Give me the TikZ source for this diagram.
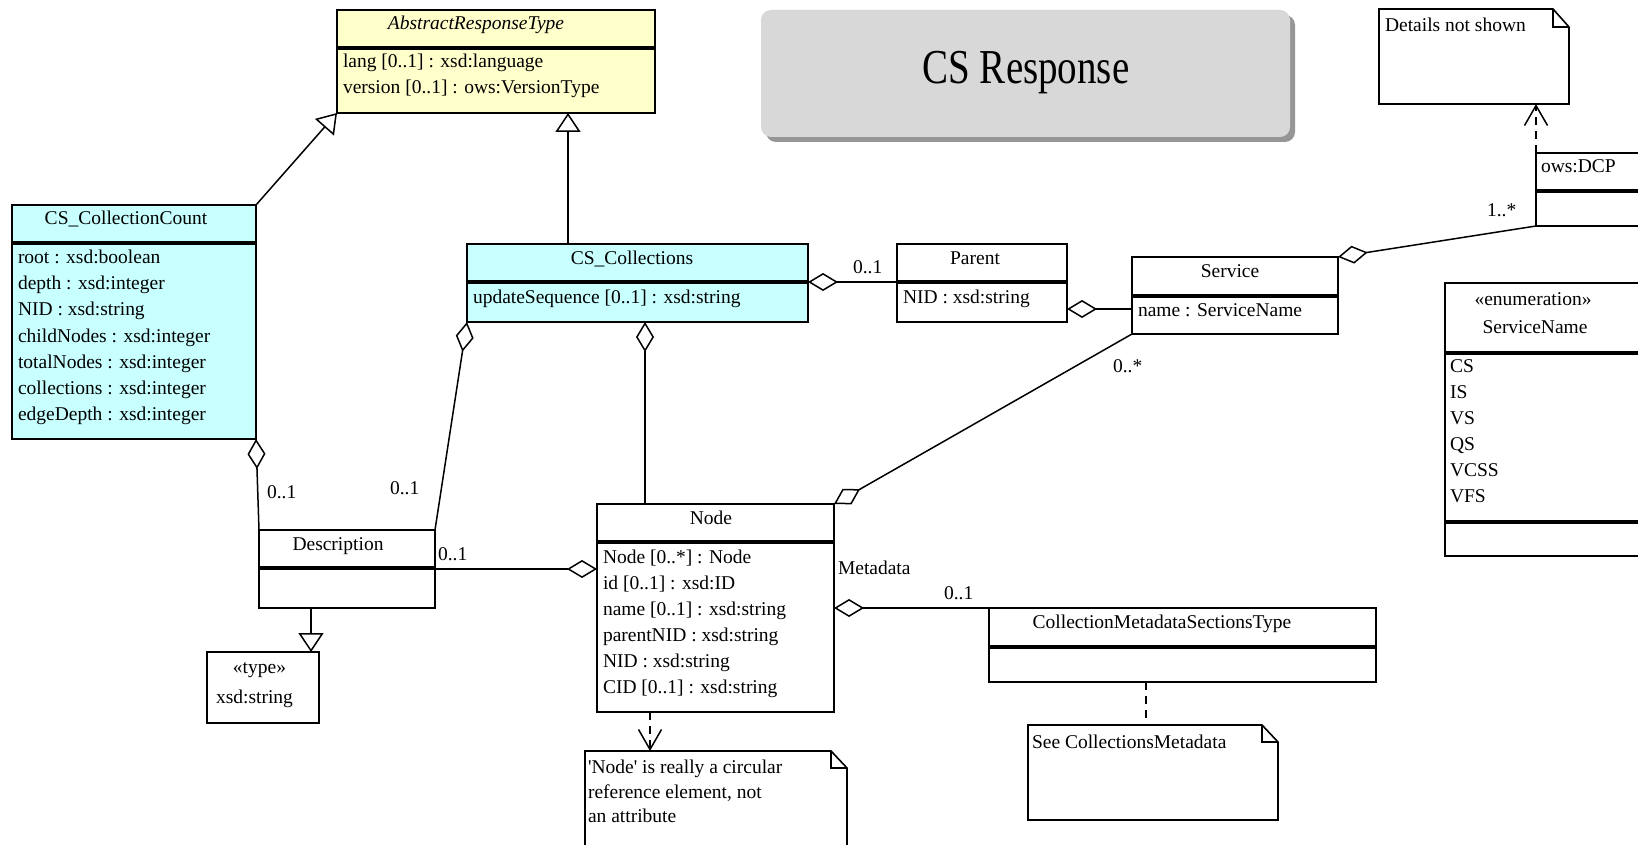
\documentclass[tikz,border=0pt]{standalone}
\usepackage{fontspec}
\usepackage{graphicx}
\setmainfont{Liberation Serif}
\usetikzlibrary{arrows.meta,fit,calc}
\definecolor{clsblue}{RGB}{200,255,255}
\definecolor{clsyellow}{RGB}{255,255,204}
\definecolor{titlegray}{RGB}{216,216,216}
\definecolor{shadowgray}{RGB}{150,150,150}
\tikzset{
  box/.style={draw, line width=1.6pt, inner sep=0pt, outer sep=0pt},
  sepline/.style={line width=3.5pt},
  txt/.style={inner sep=0pt, outer sep=0pt, anchor=base west, font=\fontsize{19.5}{26}\selectfont},
  ttl/.style={txt, anchor=base},
  conn/.style={line width=1.5pt},
  agg/.style={conn, {Diamond[fill=white, length=30pt, width=18pt]}-},
  aggend/.style={conn, -{Diamond[fill=white, length=30pt, width=18pt]}},
  gen/.style={conn, -{Triangle[fill=white, length=19pt, width=25pt]}},
  dep/.style={conn, dash pattern=on 8pt off 6pt, -{Straight Barb[length=20pt, width=23pt]}},
  noteline/.style={conn, dash pattern=on 8pt off 6pt},
  notebox/.style={inner sep=0pt, outer sep=0pt},
  noteoutline/.style={line width=1.6pt, fill=white},
}
\begin{document}
\begin{tikzpicture}[x=1pt, y=-1pt]
\useasboundingbox (0,0) rectangle (1638,845);
\fill[white] (0,0) rectangle (1638,845);

% title banner
\fill[shadowgray, rounded corners=10pt] (766,15) rectangle (1295,142);
\node[fill=titlegray, rounded corners=10pt, inner sep=0pt, outer sep=0pt, fit={(761,10) (1290,137)}] (banner) {};
\node[inner sep=0pt, anchor=base, font=\fontsize{39}{45}\selectfont] (bannertext) at (1026,84) {\scalebox{1}[1.25]{CS Response}};

% AbstractResponseType
\node[box, fill=clsyellow, fit={(337,10) (655,113)}] (art) {};
\draw[sepline] (art.west |- 0,48) -- (art.east |- 0,48);
\node[ttl, font=\fontsize{19.5}{26}\selectfont\itshape] (art-t) at (476,30) {AbstractResponseType};
\node[txt] (art-a1) at (343,68) {lang [0..1] : xsd:language};
\node[txt] (art-a2) at (343,94) {version [0..1] : ows:VersionType};

% CS_CollectionCount
\node[box, fill=clsblue, fit={(12,205) (256,439)}] (cc) {};
\draw[sepline] (cc.west |- 0,243) -- (cc.east |- 0,243);
\node[ttl] (cc-t) at (126,225) {CS\_CollectionCount};
\node[txt] (cc-a1) at (18,263) {root : xsd:boolean};
\node[txt] (cc-a2) at (18,289) {depth : xsd:integer};
\node[txt] (cc-a3) at (18,315) {NID : xsd:string};
\node[txt] (cc-a4) at (18,342) {childNodes : xsd:integer};
\node[txt] (cc-a5) at (18,368) {totalNodes : xsd:integer};
\node[txt] (cc-a6) at (18,394) {collections : xsd:integer};
\node[txt] (cc-a7) at (18,420) {edgeDepth : xsd:integer};

% CS_Collections
\node[box, fill=clsblue, fit={(467,244) (808,322)}] (coll) {};
\draw[sepline] (coll.west |- 0,282) -- (coll.east |- 0,282);
\node[ttl] (coll-t) at (632,264) {CS\_Collections};
\node[txt] (coll-a1) at (473,303) {updateSequence [0..1] : xsd:string};

% Parent
\node[box, fill=white, fit={(897,244) (1067,322)}] (parent) {};
\draw[sepline] (parent.west |- 0,282) -- (parent.east |- 0,282);
\node[ttl] (parent-t) at (975,264) {Parent};
\node[txt] (parent-a1) at (903,303) {NID : xsd:string};

% Service
\node[box, fill=white, fit={(1132,257) (1338,334)}] (service) {};
\draw[sepline] (service.west |- 0,296) -- (service.east |- 0,296);
\node[ttl] (service-t) at (1230,277) {Service};
\node[txt] (service-a1) at (1138,316) {name : ServiceName};

% ows:DCP
\node[box, fill=white, fit={(1536,153) (1660,226)}] (dcp) {};
\draw[sepline] (dcp.west |- 0,191) -- (dcp.east |- 0,191);
\node[txt] (dcp-t) at (1541,173) {ows:DCP};

% ServiceName enumeration
\node[box, fill=white, fit={(1445,283) (1660,556)}] (enum) {};
\draw[sepline] (enum.west |- 0,353) -- (enum.east |- 0,353);
\draw[sepline] (enum.west |- 0,522) -- (enum.east |- 0,522);
\node[ttl] (enum-s) at (1533,305) {«enumeration»};
\node[ttl] (enum-t) at (1535,333) {ServiceName};
\node[txt] (enum-1) at (1450,372) {CS};
\node[txt] (enum-2) at (1450,398) {IS};
\node[txt] (enum-3) at (1450,424) {VS};
\node[txt] (enum-4) at (1450,450) {QS};
\node[txt] (enum-5) at (1450,476) {VCSS};
\node[txt] (enum-6) at (1450,502) {VFS};

% Description
\node[box, fill=white, fit={(259,530) (435,608)}] (desc) {};
\draw[sepline] (desc.west |- 0,568) -- (desc.east |- 0,568);
\node[ttl] (desc-t) at (338,550) {Description};

% type xsd:string
\node[box, fill=white, fit={(207,652) (319,723)}] (typebox) {};
\node[ttl] (type-s) at (259.5,673) {«type»};
\node[txt] (type-t) at (216,703) {xsd:string};

% Node
\node[box, fill=white, fit={(597,504) (834,712)}] (nodebox) {};
\draw[sepline] (nodebox.west |- 0,542) -- (nodebox.east |- 0,542);
\node[ttl] (node-t) at (711,524) {Node};
\node[txt] (node-a1) at (603,563) {Node [0..*] : Node};
\node[txt] (node-a2) at (603,589) {id [0..1] : xsd:ID};
\node[txt] (node-a3) at (603,615) {name [0..1] : xsd:string};
\node[txt] (node-a4) at (603,641) {parentNID : xsd:string};
\node[txt] (node-a5) at (603,667) {NID : xsd:string};
\node[txt] (node-a6) at (603,693) {CID [0..1] : xsd:string};

% CollectionMetadataSectionsType
\node[box, fill=white, fit={(989,608) (1376,682)}] (cmst) {};
\draw[sepline] (cmst.west |- 0,647) -- (cmst.east |- 0,647);
\node[ttl] (cmst-t) at (1162,628) {CollectionMetadataSectionsType};

% Notes
\node[notebox, fit={(1379,9) (1569,104)}] (n1) {};
\draw[noteoutline] (n1.north west) -- ([xshift=-16pt]n1.north east) -- ([yshift=-18pt]n1.north east) -- (n1.south east) -- (n1.south west) -- cycle;
\draw[line width=1.6pt] ([xshift=-16pt]n1.north east) -- ([xshift=-16pt,yshift=-18pt]n1.north east) -- ([yshift=-18pt]n1.north east);
\node[txt] (n1-t) at (1385,32) {Details not shown};

\node[notebox, fit={(1028,725) (1278,820)}] (n2) {};
\draw[noteoutline] (n2.north west) -- ([xshift=-16pt]n2.north east) -- ([yshift=-17pt]n2.north east) -- (n2.south east) -- (n2.south west) -- cycle;
\draw[line width=1.6pt] ([xshift=-16pt]n2.north east) -- ([xshift=-16pt,yshift=-17pt]n2.north east) -- ([yshift=-17pt]n2.north east);
\node[txt] (n2-t) at (1032,748) {See CollectionsMetadata};

\node[notebox, fit={(585,751) (847,880)}] (n3) {};
\draw[noteoutline] (n3.north west) -- ([xshift=-16pt]n3.north east) -- ([yshift=-17pt]n3.north east) -- (n3.south east) -- (n3.south west) -- cycle;
\draw[line width=1.6pt] ([xshift=-16pt]n3.north east) -- ([xshift=-16pt,yshift=-17pt]n3.north east) -- ([yshift=-17pt]n3.north east);
\node[txt] (n3-t1) at (588,773) {\textquotesingle Node\textquotesingle{} is really a circular};
\node[txt] (n3-t2) at (588,798) {reference element, not};
\node[txt] (n3-t3) at (588,822) {an attribute};

% Generalizations
\draw[gen] (cc.north east) -- (art.south west);
\draw[gen] ([xshift=101pt]coll.north west) -- ([xshift=101pt]coll.north west |- art.south);
\draw[gen] ([xshift=52pt]desc.south west) -- ([xshift=52pt]desc.south west |- typebox.north);

% Aggregations
\draw[agg] (cc.south east) -- (desc.north west);
\draw[agg] (coll.south west) -- (desc.north east);
\draw[agg] ([xshift=48pt]nodebox.north west |- coll.south) -- ([xshift=48pt]nodebox.north west);
\draw[agg] ([yshift=-38pt]coll.north east) -- ([yshift=-38pt]parent.north west);
\draw[agg] ([yshift=-65pt]parent.north east) -- ([yshift=-65pt]parent.north east -| service.west);
\draw[agg] (service.north east) -- (dcp.south west);
\draw[agg] (nodebox.north east) -- (service.south west);
\draw[aggend] ([yshift=-39pt]desc.north east) -- ([yshift=-39pt]desc.north east -| nodebox.west);
\draw[agg] (nodebox.east |- cmst.north west) -- (cmst.north west);

% Dependencies / note anchors
\draw[dep] (dcp.north west) -- (dcp.north west |- n1.south);
\draw[dep] ([xshift=53pt]nodebox.south west) -- ([xshift=53pt]nodebox.south west |- n3.north);
\draw[noteline] ([xshift=157pt]cmst.south west) -- ([xshift=157pt]cmst.south west |- n2.north);

% Multiplicity and role labels
\node[txt] (m1) at (267,498) {0..1};
\node[txt] (m2) at (390,494) {0..1};
\node[txt] (m3) at (438,560) {0..1};
\node[txt] (m4) at (853,273) {0..1};
\node[txt] (m5) at (1487,217) {1..*};
\node[txt] (m6) at (1113,372) {0..*};
\node[txt] (m7) at (838,574) {Metadata};
\node[txt] (m8) at (944,599) {0..1};
\end{tikzpicture}
\end{document}
